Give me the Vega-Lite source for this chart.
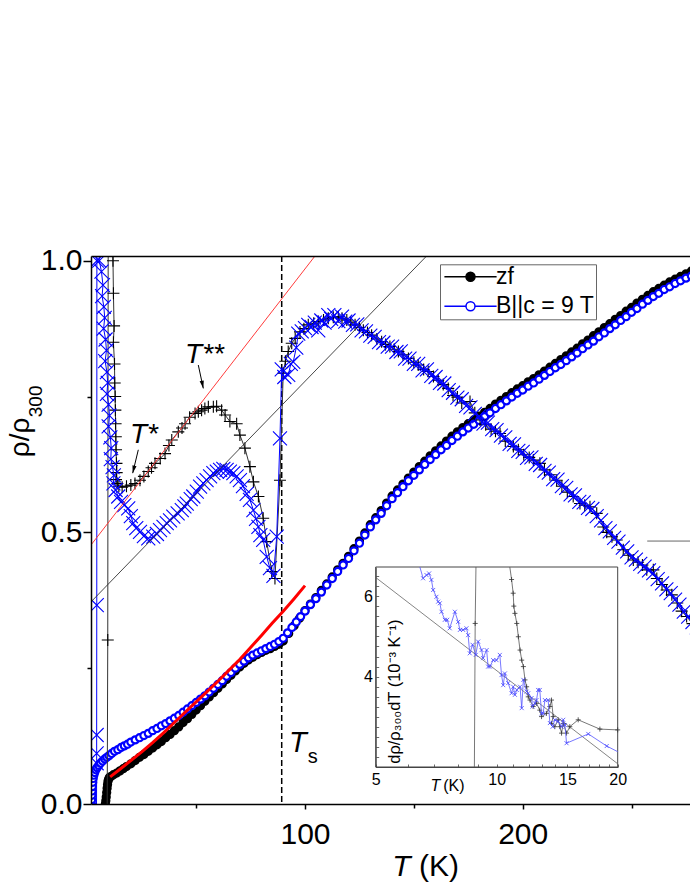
{
  "$schema": "https://vega.github.io/schema/vega-lite/v6.json",
  "width": 599,
  "height": 548,
  "autosize": {"type": "none"},
  "padding": {"left": 91, "top": 256, "right": 0, "bottom": 88},
  "background": "white",
  "config": {
    "view": {"stroke": null},
    "font": "Liberation Sans",
    "axis": {"labelFlush": false, "labelOverlap": false, "labelBound": false, "grid": false, "zindex": 1, "labelColor": "black", "titleColor": "black", "titleFontWeight": "normal", "labelFont": "Liberation Sans", "titleFont": "Liberation Sans"}
  },
  "datasets": {
    "rho": [
      {"T":8.3,"v":0.0,"s":"zf"},{"T":8.5,"v":0.006,"s":"zf"},{"T":8.7,"v":0.013,"s":"zf"},{"T":8.9,"v":0.021,"s":"zf"},{"T":9.1,"v":0.029,"s":"zf"},{"T":9.3,"v":0.036,"s":"zf"},{"T":9.5,"v":0.042,"s":"zf"},{"T":9.8,"v":0.046,"s":"zf"},{"T":10.2,"v":0.049,"s":"zf"},{"T":11,"v":0.051,"s":"zf"},{"T":12,"v":0.054,"s":"zf"},{"T":13.5,"v":0.057,"s":"zf"},{"T":15,"v":0.061,"s":"zf"},{"T":16.5,"v":0.065,"s":"zf"},{"T":18,"v":0.069,"s":"zf"},{"T":20,"v":0.074,"s":"zf"},{"T":22,"v":0.08,"s":"zf"},{"T":24,"v":0.086,"s":"zf"},{"T":26,"v":0.091,"s":"zf"},{"T":28,"v":0.097,"s":"zf"},{"T":30,"v":0.103,"s":"zf"},{"T":32,"v":0.109,"s":"zf"},{"T":34,"v":0.115,"s":"zf"},{"T":36,"v":0.122,"s":"zf"},{"T":38,"v":0.128,"s":"zf"},{"T":40,"v":0.135,"s":"zf"},{"T":42,"v":0.142,"s":"zf"},{"T":44,"v":0.15,"s":"zf"},{"T":46,"v":0.157,"s":"zf"},{"T":48,"v":0.165,"s":"zf"},{"T":50,"v":0.173,"s":"zf"},{"T":52,"v":0.181,"s":"zf"},{"T":54,"v":0.189,"s":"zf"},{"T":56,"v":0.197,"s":"zf"},{"T":58,"v":0.205,"s":"zf"},{"T":60,"v":0.213,"s":"zf"},{"T":62,"v":0.221,"s":"zf"},{"T":64,"v":0.229,"s":"zf"},{"T":66,"v":0.237,"s":"zf"},{"T":68,"v":0.245,"s":"zf"},{"T":70,"v":0.252,"s":"zf"},{"T":72,"v":0.259,"s":"zf"},{"T":74,"v":0.265,"s":"zf"},{"T":76,"v":0.27,"s":"zf"},{"T":78,"v":0.275,"s":"zf"},{"T":80,"v":0.279,"s":"zf"},{"T":82,"v":0.283,"s":"zf"},{"T":84,"v":0.286,"s":"zf"},{"T":86,"v":0.29,"s":"zf"},{"T":88,"v":0.294,"s":"zf"},{"T":90,"v":0.3,"s":"zf"},{"T":92.5,"v":0.314,"s":"zf"},{"T":95,"v":0.328,"s":"zf"},{"T":97.5,"v":0.342,"s":"zf"},{"T":100,"v":0.356,"s":"zf"},{"T":102.5,"v":0.368,"s":"zf"},{"T":105,"v":0.38,"s":"zf"},{"T":107.5,"v":0.393,"s":"zf"},{"T":110,"v":0.405,"s":"zf"},{"T":112.5,"v":0.418,"s":"zf"},{"T":115,"v":0.431,"s":"zf"},{"T":117.5,"v":0.443,"s":"zf"},{"T":120,"v":0.456,"s":"zf"},{"T":122.5,"v":0.47,"s":"zf"},{"T":125,"v":0.484,"s":"zf"},{"T":127.5,"v":0.499,"s":"zf"},{"T":130,"v":0.514,"s":"zf"},{"T":132.5,"v":0.527,"s":"zf"},{"T":135,"v":0.54,"s":"zf"},{"T":137.5,"v":0.554,"s":"zf"},{"T":140,"v":0.567,"s":"zf"},{"T":142.5,"v":0.578,"s":"zf"},{"T":145,"v":0.589,"s":"zf"},{"T":147.5,"v":0.6,"s":"zf"},{"T":150,"v":0.611,"s":"zf"},{"T":152.5,"v":0.621,"s":"zf"},{"T":155,"v":0.631,"s":"zf"},{"T":157.5,"v":0.641,"s":"zf"},{"T":160,"v":0.65,"s":"zf"},{"T":162.5,"v":0.659,"s":"zf"},{"T":165,"v":0.668,"s":"zf"},{"T":167.5,"v":0.677,"s":"zf"},{"T":170,"v":0.685,"s":"zf"},{"T":172.5,"v":0.693,"s":"zf"},{"T":175,"v":0.7,"s":"zf"},{"T":177.5,"v":0.707,"s":"zf"},{"T":180,"v":0.714,"s":"zf"},{"T":182.5,"v":0.721,"s":"zf"},{"T":185,"v":0.728,"s":"zf"},{"T":187.5,"v":0.736,"s":"zf"},{"T":190,"v":0.743,"s":"zf"},{"T":192.5,"v":0.75,"s":"zf"},{"T":195,"v":0.757,"s":"zf"},{"T":197.5,"v":0.764,"s":"zf"},{"T":200,"v":0.77,"s":"zf"},{"T":202.5,"v":0.777,"s":"zf"},{"T":205,"v":0.783,"s":"zf"},{"T":207.5,"v":0.79,"s":"zf"},{"T":210,"v":0.797,"s":"zf"},{"T":212.5,"v":0.804,"s":"zf"},{"T":215,"v":0.811,"s":"zf"},{"T":217.5,"v":0.818,"s":"zf"},{"T":220,"v":0.825,"s":"zf"},{"T":222.5,"v":0.832,"s":"zf"},{"T":225,"v":0.839,"s":"zf"},{"T":227.5,"v":0.847,"s":"zf"},{"T":230,"v":0.854,"s":"zf"},{"T":232.5,"v":0.862,"s":"zf"},{"T":235,"v":0.869,"s":"zf"},{"T":237.5,"v":0.877,"s":"zf"},{"T":240,"v":0.884,"s":"zf"},{"T":242.5,"v":0.892,"s":"zf"},{"T":245,"v":0.899,"s":"zf"},{"T":247.5,"v":0.907,"s":"zf"},{"T":250,"v":0.914,"s":"zf"},{"T":252.5,"v":0.922,"s":"zf"},{"T":255,"v":0.929,"s":"zf"},{"T":257.5,"v":0.936,"s":"zf"},{"T":260,"v":0.943,"s":"zf"},{"T":262.5,"v":0.949,"s":"zf"},{"T":265,"v":0.955,"s":"zf"},{"T":267.5,"v":0.961,"s":"zf"},{"T":270,"v":0.966,"s":"zf"},{"T":272.5,"v":0.971,"s":"zf"},{"T":275,"v":0.976,"s":"zf"},{"T":277.5,"v":0.981,"s":"zf"},{"T":280,"v":0.985,"s":"zf"},
      {"T":1.9,"v":0.0,"s":"B||c = 9 T"},{"T":2.0,"v":0.008,"s":"B||c = 9 T"},{"T":2.1,"v":0.016,"s":"B||c = 9 T"},{"T":2.2,"v":0.024,"s":"B||c = 9 T"},{"T":2.35,"v":0.032,"s":"B||c = 9 T"},{"T":2.5,"v":0.04,"s":"B||c = 9 T"},{"T":2.7,"v":0.047,"s":"B||c = 9 T"},{"T":3.0,"v":0.053,"s":"B||c = 9 T"},{"T":3.4,"v":0.058,"s":"B||c = 9 T"},{"T":3.9,"v":0.063,"s":"B||c = 9 T"},{"T":4.5,"v":0.067,"s":"B||c = 9 T"},{"T":5.2,"v":0.071,"s":"B||c = 9 T"},{"T":6,"v":0.075,"s":"B||c = 9 T"},{"T":7,"v":0.079,"s":"B||c = 9 T"},{"T":8,"v":0.083,"s":"B||c = 9 T"},{"T":9,"v":0.086,"s":"B||c = 9 T"},{"T":10,"v":0.089,"s":"B||c = 9 T"},{"T":11.2,"v":0.093,"s":"B||c = 9 T"},{"T":12.5,"v":0.097,"s":"B||c = 9 T"},{"T":14,"v":0.1,"s":"B||c = 9 T"},{"T":15.5,"v":0.104,"s":"B||c = 9 T"},{"T":17,"v":0.107,"s":"B||c = 9 T"},{"T":18.5,"v":0.11,"s":"B||c = 9 T"},{"T":20,"v":0.114,"s":"B||c = 9 T"},{"T":22,"v":0.118,"s":"B||c = 9 T"},{"T":24,"v":0.122,"s":"B||c = 9 T"},{"T":26,"v":0.126,"s":"B||c = 9 T"},{"T":28,"v":0.13,"s":"B||c = 9 T"},{"T":30,"v":0.135,"s":"B||c = 9 T"},{"T":32,"v":0.139,"s":"B||c = 9 T"},{"T":34,"v":0.144,"s":"B||c = 9 T"},{"T":36,"v":0.148,"s":"B||c = 9 T"},{"T":38,"v":0.153,"s":"B||c = 9 T"},{"T":40,"v":0.158,"s":"B||c = 9 T"},{"T":42,"v":0.163,"s":"B||c = 9 T"},{"T":44,"v":0.169,"s":"B||c = 9 T"},{"T":46,"v":0.175,"s":"B||c = 9 T"},{"T":48,"v":0.181,"s":"B||c = 9 T"},{"T":50,"v":0.187,"s":"B||c = 9 T"},{"T":52,"v":0.193,"s":"B||c = 9 T"},{"T":54,"v":0.199,"s":"B||c = 9 T"},{"T":56,"v":0.206,"s":"B||c = 9 T"},{"T":58,"v":0.213,"s":"B||c = 9 T"},{"T":60,"v":0.22,"s":"B||c = 9 T"},{"T":62,"v":0.227,"s":"B||c = 9 T"},{"T":64,"v":0.235,"s":"B||c = 9 T"},{"T":66,"v":0.242,"s":"B||c = 9 T"},{"T":68,"v":0.25,"s":"B||c = 9 T"},{"T":70,"v":0.257,"s":"B||c = 9 T"},{"T":72,"v":0.263,"s":"B||c = 9 T"},{"T":74,"v":0.269,"s":"B||c = 9 T"},{"T":76,"v":0.274,"s":"B||c = 9 T"},{"T":78,"v":0.278,"s":"B||c = 9 T"},{"T":80,"v":0.282,"s":"B||c = 9 T"},{"T":82,"v":0.286,"s":"B||c = 9 T"},{"T":84,"v":0.29,"s":"B||c = 9 T"},{"T":86,"v":0.294,"s":"B||c = 9 T"},{"T":88,"v":0.299,"s":"B||c = 9 T"},{"T":90,"v":0.305,"s":"B||c = 9 T"},{"T":92,"v":0.315,"s":"B||c = 9 T"},{"T":94,"v":0.325,"s":"B||c = 9 T"},{"T":96,"v":0.335,"s":"B||c = 9 T"},{"T":98,"v":0.345,"s":"B||c = 9 T"},{"T":100,"v":0.355,"s":"B||c = 9 T"},{"T":102.5,"v":0.367,"s":"B||c = 9 T"},{"T":105,"v":0.378,"s":"B||c = 9 T"},{"T":107.5,"v":0.39,"s":"B||c = 9 T"},{"T":110,"v":0.403,"s":"B||c = 9 T"},{"T":112.5,"v":0.415,"s":"B||c = 9 T"},{"T":115,"v":0.428,"s":"B||c = 9 T"},{"T":117.5,"v":0.44,"s":"B||c = 9 T"},{"T":120,"v":0.452,"s":"B||c = 9 T"},{"T":122.5,"v":0.466,"s":"B||c = 9 T"},{"T":125,"v":0.48,"s":"B||c = 9 T"},{"T":127.5,"v":0.495,"s":"B||c = 9 T"},{"T":130,"v":0.51,"s":"B||c = 9 T"},{"T":132.5,"v":0.523,"s":"B||c = 9 T"},{"T":135,"v":0.535,"s":"B||c = 9 T"},{"T":137.5,"v":0.549,"s":"B||c = 9 T"},{"T":140,"v":0.562,"s":"B||c = 9 T"},{"T":142.5,"v":0.573,"s":"B||c = 9 T"},{"T":145,"v":0.584,"s":"B||c = 9 T"},{"T":147.5,"v":0.595,"s":"B||c = 9 T"},{"T":150,"v":0.605,"s":"B||c = 9 T"},{"T":152.5,"v":0.615,"s":"B||c = 9 T"},{"T":155,"v":0.625,"s":"B||c = 9 T"},{"T":157.5,"v":0.634,"s":"B||c = 9 T"},{"T":160,"v":0.643,"s":"B||c = 9 T"},{"T":162.5,"v":0.652,"s":"B||c = 9 T"},{"T":165,"v":0.66,"s":"B||c = 9 T"},{"T":167.5,"v":0.669,"s":"B||c = 9 T"},{"T":170,"v":0.677,"s":"B||c = 9 T"},{"T":172.5,"v":0.685,"s":"B||c = 9 T"},{"T":175,"v":0.692,"s":"B||c = 9 T"},{"T":177.5,"v":0.699,"s":"B||c = 9 T"},{"T":180,"v":0.706,"s":"B||c = 9 T"},{"T":182.5,"v":0.713,"s":"B||c = 9 T"},{"T":185,"v":0.72,"s":"B||c = 9 T"},{"T":187.5,"v":0.728,"s":"B||c = 9 T"},{"T":190,"v":0.735,"s":"B||c = 9 T"},{"T":192.5,"v":0.742,"s":"B||c = 9 T"},{"T":195,"v":0.749,"s":"B||c = 9 T"},{"T":197.5,"v":0.756,"s":"B||c = 9 T"},{"T":200,"v":0.762,"s":"B||c = 9 T"},{"T":202.5,"v":0.769,"s":"B||c = 9 T"},{"T":205,"v":0.775,"s":"B||c = 9 T"},{"T":207.5,"v":0.782,"s":"B||c = 9 T"},{"T":210,"v":0.789,"s":"B||c = 9 T"},{"T":212.5,"v":0.796,"s":"B||c = 9 T"},{"T":215,"v":0.803,"s":"B||c = 9 T"},{"T":217.5,"v":0.809,"s":"B||c = 9 T"},{"T":220,"v":0.816,"s":"B||c = 9 T"},{"T":222.5,"v":0.823,"s":"B||c = 9 T"},{"T":225,"v":0.83,"s":"B||c = 9 T"},{"T":227.5,"v":0.838,"s":"B||c = 9 T"},{"T":230,"v":0.845,"s":"B||c = 9 T"},{"T":232.5,"v":0.852,"s":"B||c = 9 T"},{"T":235,"v":0.86,"s":"B||c = 9 T"},{"T":237.5,"v":0.867,"s":"B||c = 9 T"},{"T":240,"v":0.875,"s":"B||c = 9 T"},{"T":242.5,"v":0.882,"s":"B||c = 9 T"},{"T":245,"v":0.89,"s":"B||c = 9 T"},{"T":247.5,"v":0.897,"s":"B||c = 9 T"},{"T":250,"v":0.905,"s":"B||c = 9 T"},{"T":252.5,"v":0.912,"s":"B||c = 9 T"},{"T":255,"v":0.92,"s":"B||c = 9 T"},{"T":257.5,"v":0.927,"s":"B||c = 9 T"},{"T":260,"v":0.934,"s":"B||c = 9 T"},{"T":262.5,"v":0.94,"s":"B||c = 9 T"},{"T":265,"v":0.947,"s":"B||c = 9 T"},{"T":267.5,"v":0.952,"s":"B||c = 9 T"},{"T":270,"v":0.958,"s":"B||c = 9 T"},{"T":272.5,"v":0.963,"s":"B||c = 9 T"},{"T":275,"v":0.968,"s":"B||c = 9 T"},{"T":277.5,"v":0.972,"s":"B||c = 9 T"},{"T":280,"v":0.977,"s":"B||c = 9 T"}
    ],
    "dzf": [
      {"T":9.1,"v":-0.05,"g":"a"},{"T":9.4,"v":0.302,"g":"a"},{"T":9.6,"v":1.05,"g":"a"},
      {"T":11.6,"v":1.06,"g":"b"},{"T":11.8,"v":1.0,"g":"b"},{"T":12.0,"v":0.94,"g":"b"},{"T":12.3,"v":0.88,"g":"b"},{"T":12.0,"v":0.85,"g":"b"},{"T":12.5,"v":0.81,"g":"b"},{"T":12.6,"v":0.775,"g":"b"},{"T":12.8,"v":0.75,"g":"b"},{"T":12.9,"v":0.725,"g":"b"},{"T":13.0,"v":0.7,"g":"b"},{"T":13.1,"v":0.676,"g":"b"},{"T":13.2,"v":0.652,"g":"b"},{"T":13.4,"v":0.627,"g":"b"},{"T":13.5,"v":0.61,"g":"b"},{"T":13.2,"v":0.597,"g":"b"},{"T":13.8,"v":0.59,"g":"b"},{"T":14.5,"v":0.585,"g":"b"},{"T":16,"v":0.583,"g":"b"},{"T":18,"v":0.585,"g":"b"},{"T":20,"v":0.587,"g":"b"},{"T":21.9,"v":0.59,"g":"b"},{"T":24.2,"v":0.596,"g":"b"},{"T":26,"v":0.603,"g":"b"},{"T":28,"v":0.612,"g":"b"},{"T":29.5,"v":0.619,"g":"b"},{"T":31.1,"v":0.627,"g":"b"},{"T":33.5,"v":0.636,"g":"b"},{"T":35.7,"v":0.645,"g":"b"},{"T":37.5,"v":0.66,"g":"b"},{"T":38.8,"v":0.67,"g":"b"},{"T":41.8,"v":0.685,"g":"b"},{"T":43.5,"v":0.692,"g":"b"},{"T":44.9,"v":0.7,"g":"b"},{"T":47,"v":0.712,"g":"b"},{"T":49.5,"v":0.719,"g":"b"},{"T":51,"v":0.722,"g":"b"},{"T":52.5,"v":0.725,"g":"b"},{"T":54,"v":0.728,"g":"b"},{"T":55.6,"v":0.731,"g":"b"},{"T":57.9,"v":0.731,"g":"b"},{"T":59.4,"v":0.732,"g":"b"},{"T":61.7,"v":0.725,"g":"b"},{"T":63.3,"v":0.716,"g":"b"},{"T":65.5,"v":0.704,"g":"b"},{"T":68.6,"v":0.7,"g":"b"},{"T":70.1,"v":0.679,"g":"b"},{"T":72.4,"v":0.655,"g":"b"},{"T":74.7,"v":0.621,"g":"b"},{"T":76.3,"v":0.593,"g":"b"},{"T":78.6,"v":0.566,"g":"b"},{"T":80.8,"v":0.526,"g":"b"},{"T":82.4,"v":0.483,"g":"b"},{"T":84.7,"v":0.428,"g":"b"},{"T":86.2,"v":0.415,"g":"b"},{"T":88.5,"v":0.596,"g":"b"},{"T":90,"v":0.793,"g":"b"},{"T":91,"v":0.815,"g":"b"},{"T":92.3,"v":0.833,"g":"b"},{"T":93.9,"v":0.848,"g":"b"},{"T":95.5,"v":0.857,"g":"b"},{"T":97.7,"v":0.869,"g":"b"},{"T":99.5,"v":0.875,"g":"b"},{"T":101.5,"v":0.882,"g":"b"},{"T":104,"v":0.885,"g":"b"},{"T":106.1,"v":0.888,"g":"b"},{"T":108.5,"v":0.891,"g":"b"},{"T":110.7,"v":0.894,"g":"b"},{"T":113,"v":0.896,"g":"b"},{"T":115.3,"v":0.897,"g":"b"},{"T":117,"v":0.894,"g":"b"},{"T":119.2,"v":0.891,"g":"b"},{"T":121,"v":0.887,"g":"b"},{"T":123,"v":0.882,"g":"b"},{"T":125,"v":0.877,"g":"b"},{"T":126.8,"v":0.872,"g":"b"},{"T":128.7,"v":0.868,"g":"b"},{"T":130.6,"v":0.863,"g":"b"},{"T":133,"v":0.856,"g":"b"},{"T":135.2,"v":0.851,"g":"b"},{"T":137,"v":0.846,"g":"b"},{"T":139,"v":0.842,"g":"b"},{"T":141,"v":0.837,"g":"b"},{"T":142.9,"v":0.833,"g":"b"},{"T":145,"v":0.827,"g":"b"},{"T":147.5,"v":0.82,"g":"b"},{"T":150,"v":0.813,"g":"b"},{"T":152,"v":0.808,"g":"b"},{"T":154.5,"v":0.8,"g":"b"},{"T":156.6,"v":0.796,"g":"b"},{"T":159,"v":0.787,"g":"b"},{"T":161.2,"v":0.78,"g":"b"},{"T":163.5,"v":0.772,"g":"b"},{"T":165.8,"v":0.765,"g":"b"},{"T":168,"v":0.752,"g":"b"},{"T":170,"v":0.749,"g":"b"},{"T":172,"v":0.738,"g":"b"},{"T":175.8,"v":0.741,"g":"b"},{"T":178,"v":0.72,"g":"b"},{"T":180.4,"v":0.707,"g":"b"},{"T":183,"v":0.698,"g":"b"},{"T":185.5,"v":0.69,"g":"b"},{"T":187.5,"v":0.686,"g":"b"},{"T":189.6,"v":0.682,"g":"b"},{"T":192,"v":0.668,"g":"b"},{"T":195.7,"v":0.658,"g":"b"},{"T":198,"v":0.652,"g":"b"},{"T":200.5,"v":0.643,"g":"b"},{"T":203,"v":0.638,"g":"b"},{"T":204.9,"v":0.633,"g":"b"},{"T":207.9,"v":0.627,"g":"b"},{"T":210,"v":0.615,"g":"b"},{"T":212.5,"v":0.606,"g":"b"},{"T":215.6,"v":0.596,"g":"b"},{"T":218,"v":0.585,"g":"b"},{"T":220.5,"v":0.574,"g":"b"},{"T":223.2,"v":0.566,"g":"b"},{"T":226.3,"v":0.553,"g":"b"},{"T":228.5,"v":0.55,"g":"b"},{"T":230.9,"v":0.547,"g":"b"},{"T":234,"v":0.535,"g":"b"},{"T":237,"v":0.51,"g":"b"},{"T":238.6,"v":0.5,"g":"b"},{"T":241,"v":0.492,"g":"b"},{"T":243.2,"v":0.486,"g":"b"},{"T":246.2,"v":0.468,"g":"b"},{"T":248.5,"v":0.458,"g":"b"},{"T":250.8,"v":0.449,"g":"b"},{"T":253,"v":0.445,"g":"b"},{"T":255,"v":0.44,"g":"b"},{"T":257,"v":0.431,"g":"b"},{"T":260,"v":0.431,"g":"b"},{"T":261.6,"v":0.415,"g":"b"},{"T":264,"v":0.404,"g":"b"},{"T":266.1,"v":0.394,"g":"b"},{"T":268.5,"v":0.385,"g":"b"},{"T":271,"v":0.37,"g":"b"},{"T":273,"v":0.355,"g":"b"},{"T":275.3,"v":0.345,"g":"b"},{"T":278,"v":0.332,"g":"b"},{"T":281,"v":0.32,"g":"b"}
    ],
    "dB": [
      {"T":4.2,"v":-0.05,"g":"a"},{"T":4.3,"v":0.075,"g":"a"},{"T":4.3,"v":0.093,"g":"a"},{"T":4.3,"v":0.127,"g":"a"},{"T":4.35,"v":0.366,"g":"a"},{"T":4.4,"v":1.0,"g":"a"},{"T":4.45,"v":1.06,"g":"a"},
      {"T":5.2,"v":1.06,"g":"b"},{"T":5.5,"v":1.0,"g":"b"},{"T":6.5,"v":0.98,"g":"b"},{"T":7.2,"v":0.955,"g":"b"},{"T":6.8,"v":0.935,"g":"b"},{"T":7.6,"v":0.915,"g":"b"},{"T":8.0,"v":0.895,"g":"b"},{"T":7.5,"v":0.875,"g":"b"},{"T":8.4,"v":0.855,"g":"b"},{"T":8.8,"v":0.835,"g":"b"},{"T":8.2,"v":0.815,"g":"b"},{"T":9.0,"v":0.795,"g":"b"},{"T":9.4,"v":0.775,"g":"b"},{"T":9.0,"v":0.755,"g":"b"},{"T":9.8,"v":0.735,"g":"b"},{"T":10.2,"v":0.715,"g":"b"},{"T":9.8,"v":0.695,"g":"b"},{"T":10.6,"v":0.675,"g":"b"},{"T":11.0,"v":0.655,"g":"b"},{"T":10.8,"v":0.635,"g":"b"},{"T":11.6,"v":0.62,"g":"b"},{"T":12.2,"v":0.605,"g":"b"},{"T":12.0,"v":0.59,"g":"b"},{"T":13.0,"v":0.578,"g":"b"},{"T":14.2,"v":0.566,"g":"b"},{"T":15.5,"v":0.556,"g":"b"},{"T":17,"v":0.55,"g":"b"},{"T":18.8,"v":0.544,"g":"b"},{"T":20,"v":0.53,"g":"b"},{"T":21.1,"v":0.517,"g":"b"},{"T":22.5,"v":0.508,"g":"b"},{"T":24.2,"v":0.501,"g":"b"},{"T":26,"v":0.493,"g":"b"},{"T":28,"v":0.489,"g":"b"},{"T":30.3,"v":0.492,"g":"b"},{"T":32,"v":0.497,"g":"b"},{"T":33.4,"v":0.504,"g":"b"},{"T":35,"v":0.51,"g":"b"},{"T":36.5,"v":0.517,"g":"b"},{"T":38,"v":0.522,"g":"b"},{"T":39.5,"v":0.529,"g":"b"},{"T":41.5,"v":0.535,"g":"b"},{"T":43.4,"v":0.541,"g":"b"},{"T":44.6,"v":0.548,"g":"b"},{"T":45.7,"v":0.553,"g":"b"},{"T":47.5,"v":0.561,"g":"b"},{"T":48.7,"v":0.566,"g":"b"},{"T":50.3,"v":0.575,"g":"b"},{"T":51.8,"v":0.584,"g":"b"},{"T":53.3,"v":0.59,"g":"b"},{"T":54.8,"v":0.596,"g":"b"},{"T":56.4,"v":0.603,"g":"b"},{"T":57.9,"v":0.609,"g":"b"},{"T":59.5,"v":0.612,"g":"b"},{"T":61,"v":0.615,"g":"b"},{"T":62.5,"v":0.617,"g":"b"},{"T":64,"v":0.615,"g":"b"},{"T":65.5,"v":0.612,"g":"b"},{"T":67.1,"v":0.609,"g":"b"},{"T":68.6,"v":0.603,"g":"b"},{"T":70.1,"v":0.596,"g":"b"},{"T":71.5,"v":0.585,"g":"b"},{"T":73.2,"v":0.571,"g":"b"},{"T":74.7,"v":0.56,"g":"b"},{"T":76.3,"v":0.541,"g":"b"},{"T":77.5,"v":0.525,"g":"b"},{"T":78.6,"v":0.51,"g":"b"},{"T":79.5,"v":0.495,"g":"b"},{"T":80.8,"v":0.486,"g":"b"},{"T":82.4,"v":0.455,"g":"b"},{"T":83.9,"v":0.434,"g":"b"},{"T":85.5,"v":0.42,"g":"b"},{"T":87,"v":0.492,"g":"b"},{"T":88.5,"v":0.673,"g":"b"},{"T":89.3,"v":0.8,"g":"b"},{"T":90.5,"v":0.786,"g":"b"},{"T":92.3,"v":0.79,"g":"b"},{"T":93.5,"v":0.81,"g":"b"},{"T":94.6,"v":0.814,"g":"b"},{"T":96,"v":0.84,"g":"b"},{"T":96.9,"v":0.866,"g":"b"},{"T":98.5,"v":0.87,"g":"b"},{"T":100,"v":0.876,"g":"b"},{"T":101.5,"v":0.882,"g":"b"},{"T":103,"v":0.878,"g":"b"},{"T":104.5,"v":0.886,"g":"b"},{"T":106.1,"v":0.872,"g":"b"},{"T":107.5,"v":0.89,"g":"b"},{"T":109,"v":0.886,"g":"b"},{"T":110.7,"v":0.9,"g":"b"},{"T":112,"v":0.893,"g":"b"},{"T":113.5,"v":0.9,"g":"b"},{"T":115.3,"v":0.889,"g":"b"},{"T":117,"v":0.897,"g":"b"},{"T":118.5,"v":0.888,"g":"b"},{"T":120,"v":0.89,"g":"b"},{"T":122,"v":0.882,"g":"b"},{"T":124,"v":0.883,"g":"b"},{"T":126,"v":0.872,"g":"b"},{"T":128,"v":0.87,"g":"b"},{"T":130,"v":0.862,"g":"b"},{"T":132,"v":0.86,"g":"b"},{"T":134,"v":0.85,"g":"b"},{"T":136,"v":0.849,"g":"b"},{"T":138,"v":0.842,"g":"b"},{"T":140,"v":0.842,"g":"b"},{"T":142,"v":0.832,"g":"b"},{"T":144,"v":0.833,"g":"b"},{"T":146,"v":0.82,"g":"b"},{"T":148,"v":0.82,"g":"b"},{"T":150,"v":0.81,"g":"b"},{"T":152,"v":0.81,"g":"b"},{"T":154,"v":0.798,"g":"b"},{"T":156,"v":0.8,"g":"b"},{"T":158,"v":0.788,"g":"b"},{"T":160,"v":0.786,"g":"b"},{"T":162,"v":0.775,"g":"b"},{"T":164,"v":0.774,"g":"b"},{"T":166,"v":0.762,"g":"b"},{"T":168,"v":0.757,"g":"b"},{"T":170,"v":0.748,"g":"b"},{"T":172,"v":0.745,"g":"b"},{"T":174,"v":0.733,"g":"b"},{"T":176,"v":0.73,"g":"b"},{"T":178,"v":0.718,"g":"b"},{"T":180,"v":0.714,"g":"b"},{"T":182,"v":0.7,"g":"b"},{"T":184,"v":0.702,"g":"b"},{"T":186,"v":0.69,"g":"b"},{"T":188,"v":0.688,"g":"b"},{"T":190,"v":0.678,"g":"b"},{"T":192,"v":0.675,"g":"b"},{"T":194,"v":0.663,"g":"b"},{"T":196,"v":0.662,"g":"b"},{"T":198,"v":0.65,"g":"b"},{"T":200,"v":0.648,"g":"b"},{"T":202,"v":0.637,"g":"b"},{"T":204,"v":0.638,"g":"b"},{"T":206,"v":0.626,"g":"b"},{"T":208,"v":0.624,"g":"b"},{"T":210,"v":0.613,"g":"b"},{"T":212,"v":0.61,"g":"b"},{"T":214,"v":0.598,"g":"b"},{"T":216,"v":0.597,"g":"b"},{"T":218,"v":0.585,"g":"b"},{"T":220,"v":0.582,"g":"b"},{"T":222,"v":0.57,"g":"b"},{"T":224,"v":0.568,"g":"b"},{"T":226,"v":0.556,"g":"b"},{"T":228,"v":0.555,"g":"b"},{"T":230,"v":0.545,"g":"b"},{"T":232,"v":0.543,"g":"b"},{"T":234,"v":0.53,"g":"b"},{"T":236,"v":0.522,"g":"b"},{"T":238,"v":0.508,"g":"b"},{"T":240,"v":0.502,"g":"b"},{"T":242,"v":0.49,"g":"b"},{"T":244,"v":0.483,"g":"b"},{"T":246,"v":0.472,"g":"b"},{"T":248,"v":0.465,"g":"b"},{"T":250,"v":0.454,"g":"b"},{"T":252,"v":0.45,"g":"b"},{"T":254,"v":0.442,"g":"b"},{"T":256,"v":0.437,"g":"b"},{"T":258,"v":0.43,"g":"b"},{"T":260,"v":0.425,"g":"b"},{"T":262,"v":0.414,"g":"b"},{"T":264,"v":0.406,"g":"b"},{"T":266,"v":0.395,"g":"b"},{"T":268,"v":0.388,"g":"b"},{"T":270,"v":0.376,"g":"b"},{"T":272,"v":0.367,"g":"b"},{"T":274,"v":0.354,"g":"b"},{"T":276,"v":0.345,"g":"b"},{"T":278,"v":0.335,"g":"b"},{"T":280,"v":0.325,"g":"b"}
    ],
    "fit": [
      {"T":10.5,"v":0.05},{"T":15,"v":0.064},{"T":20,"v":0.08},{"T":25,"v":0.096},{"T":30,"v":0.113},{"T":35,"v":0.131},{"T":40,"v":0.15},{"T":45,"v":0.169},{"T":50,"v":0.188},{"T":55,"v":0.207},{"T":60,"v":0.226},{"T":65,"v":0.246},{"T":70,"v":0.266},{"T":75,"v":0.288},{"T":80,"v":0.31},{"T":85,"v":0.333},{"T":90,"v":0.355},{"T":95,"v":0.378},{"T":100,"v":0.402}
    ],
    "ik": [
      {"T":8.8,"v":1.76,"g":"a"},{"T":8.84,"v":5.32,"g":"a"},{"T":8.88,"v":6.72,"g":"a"},
      {"T":10.78,"v":6.72,"g":"b"},{"T":10.89,"v":6.41,"g":"b"},{"T":10.99,"v":6.07,"g":"b"},{"T":11.03,"v":5.75,"g":"b"},{"T":11.1,"v":5.57,"g":"b"},{"T":11.22,"v":5.32,"g":"b"},{"T":11.32,"v":4.99,"g":"b"},{"T":11.43,"v":4.66,"g":"b"},{"T":11.54,"v":4.41,"g":"b"},{"T":11.65,"v":4.25,"g":"b"},{"T":11.76,"v":3.92,"g":"b"},{"T":11.87,"v":3.75,"g":"b"},{"T":11.98,"v":3.5,"g":"b"},{"T":12.1,"v":3.42,"g":"b"},{"T":12.32,"v":3.26,"g":"b"},{"T":12.56,"v":3.34,"g":"b"},{"T":12.8,"v":3.17,"g":"b"},{"T":12.93,"v":3.01,"g":"b"},{"T":13.3,"v":3.09,"g":"b"},{"T":13.56,"v":3.26,"g":"b"},{"T":13.69,"v":3.42,"g":"b"},{"T":13.82,"v":3.01,"g":"b"},{"T":13.69,"v":2.84,"g":"b"},{"T":13.95,"v":2.76,"g":"b"},{"T":14.22,"v":2.93,"g":"b"},{"T":14.36,"v":2.76,"g":"b"},{"T":14.5,"v":2.6,"g":"b"},{"T":14.64,"v":2.84,"g":"b"},{"T":14.92,"v":2.6,"g":"b"},{"T":15.2,"v":2.76,"g":"b"},{"T":15.95,"v":2.93,"g":"b"},{"T":18.06,"v":2.7,"g":"b"},{"T":20,"v":2.68,"g":"b"}
    ],
    "ib": [
      {"T":6.44,"v":6.72},{"T":6.56,"v":6.44},{"T":6.69,"v":6.52},{"T":6.79,"v":6.56},{"T":6.88,"v":6.4},{"T":6.95,"v":6.15},{"T":7.08,"v":5.98},{"T":7.15,"v":5.86},{"T":7.22,"v":5.82},{"T":7.29,"v":5.61},{"T":7.43,"v":5.41},{"T":7.53,"v":5.41},{"T":7.64,"v":5.2},{"T":7.87,"v":5.61},{"T":8.02,"v":5.36},{"T":8.1,"v":5.16},{"T":8.25,"v":5.16},{"T":8.41,"v":5.2},{"T":8.49,"v":5.03},{"T":8.57,"v":4.58},{"T":8.71,"v":4.79},{"T":8.87,"v":4.54},{"T":8.99,"v":4.87},{"T":9.17,"v":4.66},{"T":9.25,"v":4.46},{"T":9.44,"v":4.66},{"T":9.52,"v":4.25},{"T":9.62,"v":4.25},{"T":9.8,"v":4.41},{"T":9.99,"v":4.41},{"T":10.18,"v":4.54},{"T":10.28,"v":4.04},{"T":10.38,"v":3.79},{"T":10.48,"v":4.08},{"T":10.68,"v":3.84},{"T":10.89,"v":3.59},{"T":10.99,"v":3.75},{"T":11.1,"v":3.55},{"T":11.22,"v":3.67},{"T":11.43,"v":3.75},{"T":11.54,"v":3.22},{"T":11.65,"v":3.92},{"T":11.87,"v":3.63},{"T":11.98,"v":3.59},{"T":12.21,"v":3.47},{"T":12.28,"v":3.26},{"T":12.45,"v":3.34},{"T":12.56,"v":3.42},{"T":12.68,"v":3.67},{"T":12.8,"v":3.67},{"T":12.93,"v":3.09},{"T":13.05,"v":3.09},{"T":13.18,"v":3.42},{"T":13.43,"v":3.42},{"T":13.56,"v":2.85},{"T":13.78,"v":2.76},{"T":13.95,"v":2.93},{"T":14.22,"v":2.89},{"T":14.5,"v":2.76},{"T":14.64,"v":2.93},{"T":14.78,"v":2.8},{"T":14.92,"v":2.35},{"T":16.9,"v":2.58},{"T":18.78,"v":2.28},{"T":20,"v":2.14}
    ]
  },
  "layer": [
    {
      "layer": [
        {
          "data": {"values": [{"T": 89.3}]},
          "mark": {"type": "rule", "stroke": "black", "strokeWidth": 1.5, "strokeDash": [6, 3], "clip": true},
          "encoding": {
            "x": {"field": "T", "type": "quantitative", "scale": {"domain": [1.7, 276.85], "nice": false, "zero": false},
                  "axis": {"orient": "top", "zindex": 1, "domain": true, "domainColor": "black", "domainWidth": 1.5, "ticks": false, "labels": false, "title": null}}
          }
        },
        {
          "data": {"values": [{"T": 257.2, "T2": 290, "v": 0.484}]},
          "mark": {"type": "rule", "stroke": "#666666", "strokeWidth": 1, "clip": true},
          "encoding": {
            "x": {"field": "T", "type": "quantitative", "scale": {"domain": [1.7, 276.85], "nice": false, "zero": false}, "axis": null},
            "x2": {"field": "T2"},
            "y": {"field": "v", "type": "quantitative", "scale": {"domain": [0, 1.0087], "nice": false, "zero": false}, "axis": null}
          }
        },
        {
          "data": {"name": "rho"},
          "mark": {"type": "point", "shape": "circle", "size": 50, "strokeWidth": 2.2, "opacity": 1, "clip": true},
          "encoding": {
            "x": {"field": "T", "type": "quantitative", "scale": {"domain": [1.7, 276.85], "nice": false, "zero": false},
                  "axis": {"orient": "bottom", "zindex": 1, "values": [100, 200], "format": "d", "tickSize": 5, "tickWidth": 1.5, "tickColor": "black", "domainColor": "black", "domainWidth": 1.5, "labelFontSize": 30, "labelPadding": 10,
                           "title": "T", "titleFontSize": 30, "titleFontStyle": "italic", "titleX": 300.7, "titleY": 71, "titleAlign": "left", "titleBaseline": "alphabetic"}},
            "y": {"field": "v", "type": "quantitative", "scale": {"domain": [0, 1.0087], "nice": false, "zero": false},
                  "axis": {"orient": "left", "zindex": 1, "values": [0, 0.5, 1], "format": ".1f", "tickSize": 8, "tickWidth": 1.5, "tickColor": "black", "domainColor": "black", "domainWidth": 1.5, "labelFontSize": 30, "labelPadding": 1,
                           "title": "ρ/ρ", "titleFontSize": 28, "titleAngle": 270, "titleX": -62.7, "titleY": 200.7, "titleAlign": "left", "titleBaseline": "alphabetic"}},
            "stroke": {"field": "s", "type": "nominal", "scale": {"domain": ["zf", "B||c = 9 T"], "range": ["#000000", "#0000ff"]},
                       "legend": {"orient": "none", "legendX": 349, "legendY": 8.3, "title": null, "direction": "vertical", "symbolType": "M-5.8,0H-1M1,0H5.8M-1,0A1,1,0,1,1,1,0A1,1,0,1,1,-1,0Z", "symbolSize": 81, "symbolStrokeWidth": 1.5, "symbolOffset": 18, "labelOffset": 14, "labelFont": "Liberation Sans", "labelFontSize": 23, "labelColor": "black", "labelLimit": 300, "padding": 1, "rowPadding": 5.5, "strokeColor": "#666666", "fillColor": "white"}},
            "fill": {"field": "s", "type": "nominal", "scale": {"domain": ["zf", "B||c = 9 T"], "range": ["#000000", "#ffffff"]},
                     "legend": {"orient": "none", "legendX": 349, "legendY": 8.3, "title": null, "direction": "vertical", "symbolType": "M-5.8,0H-1M1,0H5.8M-1,0A1,1,0,1,1,1,0A1,1,0,1,1,-1,0Z", "symbolSize": 81, "symbolStrokeWidth": 1.5, "symbolOffset": 18, "labelOffset": 14, "labelFont": "Liberation Sans", "labelFontSize": 23, "labelColor": "black", "labelLimit": 300, "padding": 1, "rowPadding": 5.5, "strokeColor": "#666666", "fillColor": "white"}}
          }
        },
        {
          "data": {"name": "dzf"},
          "mark": {"type": "line", "stroke": "#333333", "strokeWidth": 1, "clip": true},
          "encoding": {
            "x": {"field": "T", "type": "quantitative", "scale": {"domain": [1.7, 276.85], "nice": false, "zero": false},
                  "axis": {"orient": "bottom", "zindex": 1, "values": [50, 150, 250], "tickSize": 4, "tickWidth": 1.5, "tickColor": "black", "domain": false, "labels": false,
                           "title": "(K)", "titleFontSize": 30, "titleX": 327.4, "titleY": 71, "titleAlign": "left", "titleBaseline": "alphabetic"}},
            "y": {"field": "v", "type": "quantitative", "scale": {"domain": [0, 1.0087], "nice": false, "zero": false}, "axis": null},
            "detail": {"field": "g", "type": "nominal"},
            "order": {"value": null}
          }
        },
        {
          "data": {"name": "dzf"},
          "mark": {"type": "point", "shape": "M-1,0H1M0,-1V1", "size": 144, "filled": false, "stroke": "black", "strokeWidth": 1.1, "opacity": 1, "clip": true},
          "encoding": {
            "x": {"field": "T", "type": "quantitative", "scale": {"domain": [1.7, 276.85], "nice": false, "zero": false}, "axis": null},
            "y": {"field": "v", "type": "quantitative", "scale": {"domain": [0, 1.0087], "nice": false, "zero": false}, "axis": null}
          }
        },
        {
          "data": {"name": "dB"},
          "mark": {"type": "line", "stroke": "#0000ff", "strokeWidth": 1, "clip": true},
          "encoding": {
            "x": {"field": "T", "type": "quantitative", "scale": {"domain": [1.7, 276.85], "nice": false, "zero": false}, "axis": null},
            "y": {"field": "v", "type": "quantitative", "scale": {"domain": [0, 1.0087], "nice": false, "zero": false},
                  "axis": {"orient": "left", "zindex": 1, "values": [0.25, 0.75], "tickSize": 4, "tickWidth": 1.5, "tickColor": "black", "domain": false, "labels": false,
                           "title": "300", "titleFontSize": 19, "titleAngle": 270, "titleX": -49.3, "titleY": 160.7, "titleAlign": "left", "titleBaseline": "alphabetic"}},
            "detail": {"field": "g", "type": "nominal"},
            "order": {"value": null}
          }
        },
        {
          "data": {"name": "dB"},
          "mark": {"type": "point", "shape": "M-1,-1L1,1M-1,1L1,-1", "size": 196, "filled": false, "stroke": "#0000ff", "strokeWidth": 1.1, "opacity": 1, "clip": true},
          "encoding": {
            "x": {"field": "T", "type": "quantitative", "scale": {"domain": [1.7, 276.85], "nice": false, "zero": false}, "axis": null},
            "y": {"field": "v", "type": "quantitative", "scale": {"domain": [0, 1.0087], "nice": false, "zero": false}, "axis": null}
          }
        },
        {
          "data": {"values": [{"T": 0, "v": 0.468, "T2": 110, "v2": 1.0367}]},
          "mark": {"type": "rule", "stroke": "#ff3b3b", "strokeWidth": 1, "clip": true},
          "encoding": {
            "x": {"field": "T", "type": "quantitative", "scale": {"domain": [1.7, 276.85], "nice": false, "zero": false}, "axis": null},
            "y": {"field": "v", "type": "quantitative", "scale": {"domain": [0, 1.0087], "nice": false, "zero": false}, "axis": null},
            "x2": {"field": "T2"}, "y2": {"field": "v2"}
          }
        },
        {
          "data": {"values": [{"T": 0, "v": 0.365, "T2": 160, "v2": 1.0258}]},
          "mark": {"type": "rule", "stroke": "#333333", "strokeWidth": 0.9, "clip": true},
          "encoding": {
            "x": {"field": "T", "type": "quantitative", "scale": {"domain": [1.7, 276.85], "nice": false, "zero": false}, "axis": null},
            "y": {"field": "v", "type": "quantitative", "scale": {"domain": [0, 1.0087], "nice": false, "zero": false}, "axis": null},
            "x2": {"field": "T2"}, "y2": {"field": "v2"}
          }
        },
        {
          "data": {"name": "fit"},
          "mark": {"type": "line", "stroke": "#ff0000", "strokeWidth": 3, "clip": true},
          "encoding": {
            "x": {"field": "T", "type": "quantitative", "scale": {"domain": [1.7, 276.85], "nice": false, "zero": false}, "axis": null},
            "y": {"field": "v", "type": "quantitative", "scale": {"domain": [0, 1.0087], "nice": false, "zero": false}, "axis": null}
          }
        },
        {
          "data": {"values": [{"T": 44.9, "v": 0.811, "t": "T**"}, {"T": 19.6, "v": 0.664, "t": "T*"}]},
          "mark": {"type": "text", "font": "Liberation Sans", "fontSize": 28, "fontStyle": "italic", "align": "left", "baseline": "alphabetic", "color": "black"},
          "encoding": {
            "x": {"field": "T", "type": "quantitative", "scale": {"domain": [1.7, 276.85], "nice": false, "zero": false}, "axis": null},
            "y": {"field": "v", "type": "quantitative", "scale": {"domain": [0, 1.0087], "nice": false, "zero": false}, "axis": null},
            "text": {"field": "t"}
          }
        },
        {
          "data": {"values": [{"T": 92.65, "v": 0.0957, "t": "T"}]},
          "mark": {"type": "text", "font": "Liberation Sans", "fontSize": 29, "fontStyle": "italic", "align": "left", "baseline": "alphabetic", "color": "black"},
          "encoding": {
            "x": {"field": "T", "type": "quantitative", "scale": {"domain": [1.7, 276.85], "nice": false, "zero": false}, "axis": null},
            "y": {"field": "v", "type": "quantitative", "scale": {"domain": [0, 1.0087], "nice": false, "zero": false}, "axis": null},
            "text": {"field": "t"}
          }
        },
        {
          "data": {"values": [{"T": 101.3, "v": 0.075, "t": "s"}]},
          "mark": {"type": "text", "font": "Liberation Sans", "fontSize": 20, "align": "left", "baseline": "alphabetic", "color": "black"},
          "encoding": {
            "x": {"field": "T", "type": "quantitative", "scale": {"domain": [1.7, 276.85], "nice": false, "zero": false}, "axis": null},
            "y": {"field": "v", "type": "quantitative", "scale": {"domain": [0, 1.0087], "nice": false, "zero": false}, "axis": null},
            "text": {"field": "t"}
          }
        },
        {
          "data": {"values": [{"T": 50.99, "v": 0.808, "T2": 53.29, "v2": 0.765}, {"T": 23.43, "v": 0.652, "T2": 20.85, "v2": 0.609}]},
          "mark": {"type": "rule", "stroke": "black", "strokeWidth": 1},
          "encoding": {
            "x": {"field": "T", "type": "quantitative", "scale": {"domain": [1.7, 276.85], "nice": false, "zero": false}, "axis": null},
            "y": {"field": "v", "type": "quantitative", "scale": {"domain": [0, 1.0087], "nice": false, "zero": false}, "axis": null},
            "x2": {"field": "T2"}, "y2": {"field": "v2"}
          }
        },
        {
          "data": {"values": [{"T": 53.29, "v": 0.765}]},
          "mark": {"type": "point", "shape": "M0,0L-0.6,-2.2L0.6,-2.2Z", "size": 49, "filled": true, "fill": "black", "strokeWidth": 0, "opacity": 1, "angle": 348},
          "encoding": {
            "x": {"field": "T", "type": "quantitative", "scale": {"domain": [1.7, 276.85], "nice": false, "zero": false}, "axis": null},
            "y": {"field": "v", "type": "quantitative", "scale": {"domain": [0, 1.0087], "nice": false, "zero": false}, "axis": null}
          }
        },
        {
          "data": {"values": [{"T": 20.85, "v": 0.609}]},
          "mark": {"type": "point", "shape": "M0,0L-0.6,-2.2L0.6,-2.2Z", "size": 49, "filled": true, "fill": "black", "strokeWidth": 0, "opacity": 1, "angle": 13.5},
          "encoding": {
            "x": {"field": "T", "type": "quantitative", "scale": {"domain": [1.7, 276.85], "nice": false, "zero": false}, "axis": null},
            "y": {"field": "v", "type": "quantitative", "scale": {"domain": [0, 1.0087], "nice": false, "zero": false}, "axis": null}
          }
        }
      ],
      "resolve": {"axis": {"x": "independent", "y": "independent"}}
    },
    {
      "layer": [
        {
          "data": {"values": [{"T": 5, "T2": 20, "v": 1.76, "v2": 6.72}]},
          "mark": {"type": "rect", "fill": "white", "stroke": "#444444", "strokeWidth": 1},
          "encoding": {
            "x": {"field": "T", "type": "quantitative", "scale": {"type": "log", "domain": [5, 20], "range": [284.7, 526.7], "nice": false},
                  "axis": {"orient": "bottom", "zindex": 2, "offset": -37, "values": [5, 6, 7, 8, 9, 10, 11, 12, 13, 14, 15, 16, 17, 18, 19, 20], "labelExpr": "indexof([5,10,15,20], datum.value) >= 0 ? format(datum.value, 'd') : ''",
                           "tickSize": -3, "tickWidth": 0.8, "tickColor": "#444444", "domainColor": "#444444", "domainWidth": 1, "labelFontSize": 16, "labelPadding": 7.7,
                           "title": "T", "titleFontSize": 16, "titleFontStyle": "italic", "titleX": 339, "titleY": 23, "titleAlign": "left", "titleBaseline": "alphabetic"}},
            "x2": {"field": "T2"},
            "y": {"field": "v", "type": "quantitative", "scale": {"domain": [1.76, 6.72], "range": [511, 311], "nice": false, "zero": false},
                  "axis": {"orient": "left", "zindex": 2, "offset": -284.7, "values": [2, 2.25, 2.5, 2.75, 3, 3.25, 3.5, 3.75, 4, 4.25, 4.5, 4.75, 5, 5.25, 5.5, 5.75, 6, 6.25, 6.5], "labelExpr": "datum.value == 4 ? '4' : datum.value == 6 ? '6' : ''",
                           "tickSize": -3, "tickWidth": 0.8, "tickColor": "#444444", "domainColor": "#444444", "domainWidth": 1, "labelFontSize": 16, "labelPadding": 6.3,
                           "title": "dρ/ρ₃₀₀dT (10⁻³ K⁻¹)", "titleFontSize": 16.5, "titleAngle": 270, "titleX": 23.6, "titleY": 507.3, "titleAlign": "left", "titleBaseline": "alphabetic"}},
            "y2": {"field": "v2"}
          }
        },
        {
          "data": {"values": [{"T": 5, "v": 6.46}, {"T": 20, "v": 1.84}]},
          "mark": {"type": "line", "stroke": "#666666", "strokeWidth": 0.8},
          "encoding": {
            "x": {"field": "T", "type": "quantitative", "scale": {"type": "log", "domain": [5, 20], "range": [284.7, 526.7], "nice": false},
                  "axis": {"orient": "bottom", "zindex": 2, "offset": -37, "domain": false, "ticks": false, "labels": false,
                           "title": "(K)", "titleFontSize": 16, "titleX": 351.7, "titleY": 23, "titleAlign": "left", "titleBaseline": "alphabetic"}},
            "y": {"field": "v", "type": "quantitative", "scale": {"domain": [1.76, 6.72], "range": [511, 311], "nice": false, "zero": false}, "axis": null}
          }
        },
        {
          "data": {"name": "ik"},
          "mark": {"type": "line", "stroke": "#555555", "strokeWidth": 0.8},
          "encoding": {
            "x": {"field": "T", "type": "quantitative", "scale": {"type": "log", "domain": [5, 20], "range": [284.7, 526.7], "nice": false}, "axis": null},
            "y": {"field": "v", "type": "quantitative", "scale": {"domain": [1.76, 6.72], "range": [511, 311], "nice": false, "zero": false}, "axis": null},
            "detail": {"field": "g", "type": "nominal"},
            "order": {"value": null}
          }
        },
        {
          "data": {"name": "ik"},
          "transform": [{"filter": "datum.v > 1.8 && datum.v < 6.7"}],
          "mark": {"type": "point", "shape": "M-1,0H1M0,-1V1", "size": 25, "filled": false, "stroke": "#333333", "strokeWidth": 0.8, "opacity": 1},
          "encoding": {
            "x": {"field": "T", "type": "quantitative", "scale": {"type": "log", "domain": [5, 20], "range": [284.7, 526.7], "nice": false}, "axis": null},
            "y": {"field": "v", "type": "quantitative", "scale": {"domain": [1.76, 6.72], "range": [511, 311], "nice": false, "zero": false}, "axis": null}
          }
        },
        {
          "data": {"name": "ib"},
          "mark": {"type": "line", "stroke": "#5555ff", "strokeWidth": 0.8},
          "encoding": {
            "x": {"field": "T", "type": "quantitative", "scale": {"type": "log", "domain": [5, 20], "range": [284.7, 526.7], "nice": false}, "axis": null},
            "y": {"field": "v", "type": "quantitative", "scale": {"domain": [1.76, 6.72], "range": [511, 311], "nice": false, "zero": false}, "axis": null},
            "order": {"value": null}
          }
        },
        {
          "data": {"name": "ib"},
          "transform": [{"filter": "datum.v < 6.7 && datum.T < 19.9"}],
          "mark": {"type": "point", "shape": "M-1,-1L1,1M-1,1L1,-1", "size": 16, "filled": false, "stroke": "#4444ff", "strokeWidth": 0.8, "opacity": 1},
          "encoding": {
            "x": {"field": "T", "type": "quantitative", "scale": {"type": "log", "domain": [5, 20], "range": [284.7, 526.7], "nice": false}, "axis": null},
            "y": {"field": "v", "type": "quantitative", "scale": {"domain": [1.76, 6.72], "range": [511, 311], "nice": false, "zero": false}, "axis": null}
          }
        }
      ],
      "resolve": {"axis": {"x": "independent", "y": "independent"}}
    }
  ],
  "resolve": {"scale": {"x": "independent", "y": "independent"}, "axis": {"x": "independent", "y": "independent"}}
}
